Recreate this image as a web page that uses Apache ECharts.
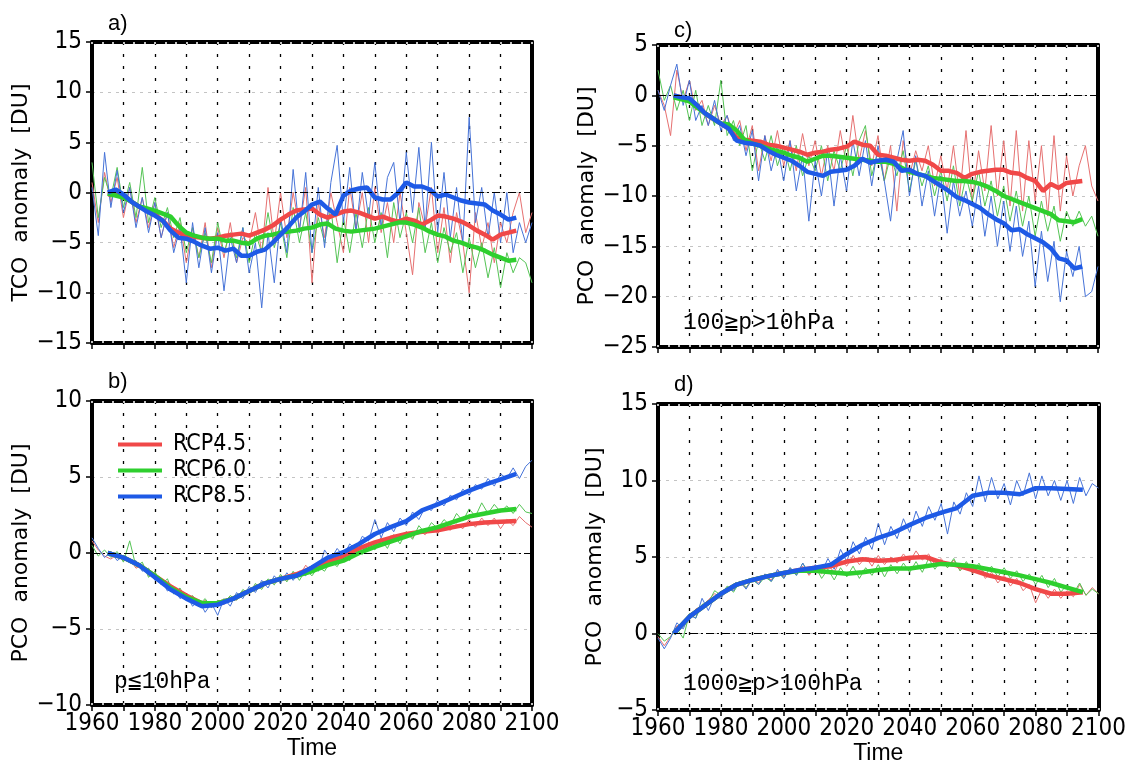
<!DOCTYPE html>
<html><head><meta charset="utf-8">
<script src="https://cdn.jsdelivr.net/npm/echarts@6/dist/echarts.min.js"></script>
<style>html,body{margin:0;padding:0;background:#fff}#c{width:1129px;height:769px}</style>
</head><body><div id="c"></div>
<script>
// ---------- categories / years ----------
const thinYears = []; for (let y = 1960; y <= 2100; y += 2) thinYears.push(y);          // annual values sampled every 2 years
const thickYearsAC = []; for (let y = 1965; y <= 2095; y += 2.5) thickYearsAC.push(y);  // smoothed curves, panels a & c
const thickYearsBD = []; for (let y = 1965; y <= 2095; y += 5) thickYearsBD.push(y);    // smoothed curves, panels b & d
const scenarios = ['RCP4.5', 'RCP6.0', 'RCP8.5'];
const xTickLabels = [1960, 1980, 2000, 2020, 2040, 2060, 2080, 2100];

// ---------- panel a : TCO ----------
const aThinRed = [1.0,-3.0,2.0,-1.0,1.5,-2.5,0.5,-3.0,-0.5,-3.5,
 -1.0,-4.5,-2.0,-5.5,-3.0,-7.0,-3.5,-6.5,-3.0,-7.5,
 -3.5,-6.5,-3.0,-7.0,-4.5,-5.0,-2.0,-6.0,0.5,-5.0,
 0.0,-4.5,0.0,-3.5,0.5,-9.0,-1.0,-4.5,0.0,-3.0,
 -6.0,0.5,-3.5,0.0,-5.0,0.5,-4.0,-1.0,-5.0,0.0,
 -4.0,-8.2,-1.0,-3.5,0.5,-6.0,-1.5,-7.0,-2.0,-5.0,
 -10.0,-2.0,-5.5,-3.0,-7.0,-3.0,-5.0,-2.0,0.0,-4.0,
 -2.0];
const aThinGreen = [3.0,-2.5,1.5,-0.5,2.5,-1.5,1.0,-2.5,2.5,-3.0,
 -0.5,-3.5,-1.5,-4.5,-2.5,-6.0,-3.5,-6.5,-4.0,-7.0,
 -3.0,-6.0,-4.0,-6.5,-3.5,-7.0,-4.0,-6.0,-2.0,-5.5,
 -3.0,-6.5,-1.5,-5.0,-2.0,-6.0,-2.5,-5.0,-1.5,-7.0,
 -2.5,-6.0,-2.0,-5.5,-1.5,-5.0,-2.0,-6.5,-1.0,-4.5,
 -2.0,-5.0,-1.5,-6.0,-3.0,-7.0,-3.5,-6.0,-4.0,-8.0,
 -4.5,-7.5,-5.0,-8.5,-5.5,-9.5,-6.0,-8.0,-6.5,-7.0,
 -9.0];
const aThinBlue = [0.5,-4.3,4.0,-1.5,2.2,-2.0,0.5,-3.5,-0.5,-4.0,
 -1.0,-4.5,-2.0,-6.0,-3.5,-9.0,-3.0,-7.5,-3.5,-8.0,
 -4.0,-9.8,-4.5,-7.0,-3.5,-8.0,-5.0,-11.5,-4.0,-9.0,
 -2.5,-6.0,2.3,-4.0,2.0,-6.0,0.5,-5.5,1.0,4.7,
 -3.0,2.5,-4.0,2.0,-2.5,3.0,-3.5,1.5,3.0,-3.0,
 4.0,-2.0,4.5,-3.5,5.0,-4.0,2.0,-4.5,0.5,-5.0,
 7.5,-3.0,0.5,-4.5,0.0,-5.0,0.0,-6.0,-3.0,-5.0,
 -3.0];
const aThickRed = [-0.2,-0.1,-0.4,-0.9,-1.4,-1.8,-2.2,-2.8,-3.6,-4.0,
 -4.3,-4.4,-4.5,-4.6,-4.5,-4.3,-4.2,-4.1,-4.3,-4.0,
 -3.7,-3.3,-2.7,-2.2,-1.8,-1.7,-1.6,-2.2,-2.5,-2.2,
 -1.9,-1.8,-2.0,-2.3,-2.6,-2.4,-2.7,-2.9,-2.6,-2.8,
 -3.2,-2.8,-2.3,-2.4,-2.6,-2.9,-3.3,-3.8,-4.2,-4.7,
 -4.2,-4.0,-3.8];
const aThickGreen = [-0.1,-0.3,-0.5,-0.9,-1.4,-1.6,-1.8,-2.1,-2.4,-3.3,
 -4.0,-4.3,-4.5,-4.6,-4.6,-4.8,-4.8,-5.0,-5.1,-4.6,
 -4.3,-4.2,-4.0,-3.9,-3.8,-3.6,-3.5,-3.2,-3.1,-3.6,
 -3.8,-3.9,-3.8,-3.7,-3.6,-3.4,-3.2,-3.0,-3.0,-3.2,
 -3.5,-3.9,-4.2,-4.4,-4.8,-5.0,-5.3,-5.5,-5.8,-6.2,
 -6.5,-6.8,-6.7];
const aThickBlue = [0.0,0.3,-0.2,-0.9,-1.4,-1.9,-2.3,-2.8,-3.8,-4.5,
 -4.6,-4.9,-5.3,-5.6,-5.5,-5.8,-5.6,-6.3,-6.3,-5.9,
 -5.7,-5.0,-4.2,-3.4,-2.5,-1.9,-1.2,-0.9,-1.6,-2.2,
 -0.3,0.2,0.4,0.5,-0.5,-0.7,-0.7,0.0,1.0,0.6,
 0.6,0.3,-0.4,-0.2,-0.5,-0.8,-1.0,-1.1,-1.2,-1.8,
 -2.2,-2.7,-2.5];

// ---------- panel b : PCO p<=10hPa ----------
const bThinRed = [0.8,0.2,-0.2,-0.4,-0.1,-0.5,-0.4,-1.0,-0.8,-1.5,
 -1.3,-2.0,-1.9,-2.6,-2.4,-3.0,-2.9,-3.5,-3.1,-3.6,
 -3.2,-3.4,-2.9,-3.1,-2.5,-2.7,-2.1,-2.3,-1.8,-2.0,
 -1.5,-1.8,-1.3,-1.5,-0.8,-1.3,-0.6,-0.9,-0.3,-0.6,
 0.0,-0.3,0.4,0.1,0.7,0.5,1.0,0.7,1.2,0.9,
 1.4,1.0,1.5,1.2,1.7,1.3,1.7,1.5,1.9,1.6,
 2.2,1.7,2.3,1.8,2.3,1.6,2.2,1.8,2.4,2.0,
 1.7];
const bThinGreen = [0.5,-0.2,0.2,-0.3,0.1,-0.6,0.8,-0.9,-0.6,-1.6,
 -1.2,-2.1,-1.7,-2.7,-2.3,-3.1,-2.8,-3.4,-3.0,-3.6,
 -3.1,-3.3,-2.8,-3.1,-2.4,-2.7,-2.0,-2.4,-1.7,-2.1,
 -1.4,-1.9,-1.2,-1.8,-1.1,-1.5,-0.9,-1.2,-0.5,-0.9,
 -0.2,-0.5,0.3,-0.1,0.6,0.2,0.9,0.3,1.2,0.6,
 1.4,0.9,1.8,1.3,2.0,1.6,2.2,1.8,2.6,2.1,
 2.9,2.4,3.3,2.6,3.2,2.7,3.1,2.6,3.2,2.7,
 2.6];
const bThinBlue = [1.0,0.3,-0.3,0.1,-0.5,-0.2,-0.6,-0.5,-1.2,-1.0,
 -1.8,-1.7,-2.5,-2.3,-3.0,-2.7,-3.5,-3.1,-3.9,-3.3,
 -4.1,-3.0,-3.5,-2.6,-3.0,-2.2,-2.6,-1.8,-2.3,-1.5,
 -2.0,-1.3,-1.8,-1.2,-1.5,-0.8,-1.2,0.2,-0.4,0.3,
 -0.2,0.6,0.2,1.1,0.8,2.2,1.0,2.0,1.4,2.3,
 1.8,2.7,2.2,3.0,2.8,3.5,3.1,3.8,3.5,4.2,
 3.8,4.5,4.2,4.9,4.4,5.2,4.9,5.6,4.9,5.7,
 6.1];
const bThickRed = [0.0,-0.3,-0.8,-1.5,-2.2,-2.8,-3.3,-3.3,-3.0,-2.5,-2.0,-1.7,-1.4,-1.0,
 -0.6,-0.2,0.3,0.7,1.0,1.25,1.4,1.5,1.7,1.9,2.0,2.05,2.1];
const bThickGreen = [0.0,-0.3,-0.8,-1.5,-2.3,-2.9,-3.3,-3.3,-3.0,-2.5,-2.0,-1.7,-1.5,-1.2,
 -0.8,-0.5,0.0,0.4,0.75,1.1,1.45,1.7,2.05,2.4,2.6,2.8,2.9];
const bThickBlue = [0.0,-0.3,-0.8,-1.6,-2.4,-3.0,-3.5,-3.4,-3.0,-2.5,-2.0,-1.7,-1.5,-0.95,
 -0.3,0.05,0.6,1.25,1.7,2.1,2.8,3.2,3.65,4.1,4.5,4.85,5.2];

// ---------- panel c : PCO 100>=p>10hPa ----------
const cThinRed = [0.5,-1.0,-4.0,2.5,-0.5,1.5,-1.5,-0.5,-3.0,-1.0,
 -3.0,-2.0,-4.0,-2.5,-5.5,-3.0,-7.5,-4.0,-6.5,-3.5,
 -7.0,-4.5,-7.5,-3.8,-7.0,-4.5,-8.0,-5.0,-7.5,-3.5,
 -7.0,-2.0,-6.5,-3.5,-7.0,-4.0,-8.5,-5.0,-11.5,-4.5,
 -8.0,-5.5,-7.5,-5.0,-9.0,-6.0,-9.5,-5.0,-10.0,-3.5,
 -10.5,-5.5,-9.5,-3.0,-10.0,-4.5,-11.0,-3.5,-11.5,-4.5,
 -10.5,-5.0,-12.0,-4.0,-11.5,-6.0,-10.0,-7.0,-5.0,-9.0,
 -10.5];
const cThinGreen = [2.5,-0.5,1.0,-1.5,0.5,-2.5,0.5,-3.0,-1.0,-3.0,
 1.5,-4.0,-2.5,-5.0,-3.0,-7.5,-4.5,-6.5,-4.0,-7.0,
 -5.0,-7.5,-5.0,-8.0,-6.0,-7.5,-5.0,-8.5,-5.5,-7.5,
 -5.0,-8.0,-4.5,-3.0,-8.0,-5.5,-8.5,-6.0,-8.0,-5.5,
 -9.5,-6.5,-9.0,-7.0,-10.0,-7.5,-10.5,-7.0,-11.0,-8.0,
 -10.5,-7.5,-11.0,-8.5,-12.0,-9.0,-12.5,-9.5,-13.0,-10.0,
 -14.0,-10.5,-13.5,-11.0,-14.5,-11.5,-13.0,-11.5,-13.0,-12.0,
 -14.0];
const cThinBlue = [0.5,-1.5,1.0,3.1,-1.0,1.5,-2.5,-1.0,-3.0,-0.5,
 -3.5,-2.0,-4.5,-3.0,-6.0,-3.5,-8.5,-4.0,-7.5,-5.0,
 -8.5,-4.5,-9.5,-6.0,-12.5,-6.5,-10.0,-5.5,-11.0,-6.0,
 -9.5,-4.5,-8.0,-4.5,-9.0,-5.0,-8.5,-12.5,-6.5,-3.5,
 -10.0,-6.0,-11.0,-7.5,-12.0,-8.0,-13.7,-8.5,-12.0,-9.5,
 -13.0,-9.0,-14.0,-10.0,-15.0,-10.5,-15.5,-11.0,-16.0,-12.5,
 -19.0,-13.5,-18.5,-14.5,-20.5,-15.5,-18.0,-15.0,-20.0,-19.5,
 -17.0];
const cThickRed = [0.0,-0.2,-0.4,-1.1,-1.8,-2.3,-2.8,-3.3,-4.2,-4.4,
 -4.5,-4.6,-4.9,-5.0,-5.2,-5.4,-5.6,-5.9,-5.7,-5.6,
 -5.4,-5.3,-5.1,-4.6,-4.9,-5.0,-5.9,-6.0,-6.2,-6.4,
 -6.5,-6.4,-6.5,-6.9,-7.5,-7.5,-7.7,-8.2,-7.8,-7.6,
 -7.5,-7.4,-7.4,-7.7,-7.8,-8.2,-8.5,-9.5,-8.8,-9.2,
 -8.7,-8.6,-8.5];
const cThickGreen = [-0.2,-0.4,-0.6,-1.2,-1.8,-2.3,-2.8,-2.9,-3.5,-4.4,
 -4.8,-5.0,-5.3,-5.5,-5.7,-6.0,-6.2,-6.6,-6.3,-6.0,
 -6.0,-6.1,-6.2,-6.3,-6.4,-6.5,-6.6,-6.6,-6.8,-7.2,
 -7.6,-7.8,-8.0,-8.2,-8.3,-8.4,-8.5,-8.5,-8.6,-8.8,
 -9.1,-9.5,-10.0,-10.3,-10.6,-10.9,-11.2,-11.5,-11.8,-12.4,
 -12.5,-12.6,-12.3];
const cThickBlue = [0.0,-0.2,-0.3,-1.0,-1.8,-2.3,-2.8,-3.3,-4.5,-4.7,
 -4.8,-5.0,-5.5,-5.9,-6.2,-6.5,-7.0,-7.6,-7.8,-8.0,
 -7.6,-7.5,-7.4,-7.0,-6.3,-6.7,-6.5,-6.4,-6.6,-7.5,
 -7.4,-7.8,-8.0,-8.5,-9.0,-9.5,-10.1,-10.4,-10.8,-11.2,
 -11.8,-12.3,-12.7,-13.4,-13.3,-13.8,-14.2,-14.6,-15.2,-16.2,
 -16.4,-17.2,-17.0];

// ---------- panel d : PCO 1000>=p>100hPa ----------
const dThinRed = [-0.2,-0.8,-0.2,0.5,0.6,1.0,1.6,1.8,2.2,2.6,
 2.4,3.0,2.9,3.3,3.0,3.6,3.3,3.8,3.5,4.1,
 3.7,4.2,3.9,4.4,3.8,4.3,3.9,4.5,4.0,4.8,
 4.4,5.1,4.5,5.0,4.4,5.1,4.5,5.0,4.6,5.2,
 4.7,5.4,4.8,5.2,4.5,4.9,4.3,4.8,4.1,4.6,
 3.9,4.4,3.6,4.0,3.3,3.8,3.1,3.6,2.8,3.2,
 2.0,2.9,2.3,2.9,2.3,2.8,2.4,3.2,2.5,3.0,
 2.6];
const dThinGreen = [0.0,-0.5,-0.2,0.3,-0.3,1.3,1.0,1.9,2.0,2.8,
 2.5,3.1,2.7,3.4,3.0,3.5,3.2,3.7,3.4,4.0,
 3.6,4.3,3.8,4.6,3.9,4.4,3.6,4.2,3.5,4.3,
 3.7,4.4,3.6,4.3,3.8,4.5,3.7,4.5,3.9,4.6,
 4.0,4.7,4.0,4.9,4.2,4.8,4.3,4.9,4.1,4.7,
 4.0,4.6,3.8,4.4,3.7,4.3,3.6,4.1,3.4,3.9,
 3.2,3.8,3.0,3.6,2.7,3.2,2.6,3.3,2.5,2.9,
 2.6];
const dThinBlue = [-0.3,-1.0,-0.3,0.7,0.3,1.2,1.0,2.3,1.5,2.4,
 2.3,2.9,2.8,3.4,2.9,3.6,3.2,3.9,3.4,4.2,
 3.6,4.3,3.8,4.6,3.9,4.5,4.0,4.9,4.2,5.5,
 4.7,6.0,5.2,6.3,5.5,7.2,5.8,7.0,6.2,7.5,
 6.6,8.0,7.0,8.3,7.4,8.5,6.5,8.6,7.8,9.2,
 8.3,10.3,8.6,10.2,8.8,9.8,8.4,10.0,9.0,10.5,
 8.8,10.3,9.0,10.0,8.7,10.0,8.5,10.2,9.0,9.8,
 9.5];
const dThickRed = [0.0,1.1,1.85,2.6,3.2,3.5,3.75,3.95,4.15,4.3,4.4,4.7,4.85,4.75,
 4.8,4.95,5.0,4.65,4.45,4.15,3.8,3.55,3.3,2.9,2.6,2.6,2.7];
const dThickGreen = [0.0,1.1,1.85,2.6,3.2,3.5,3.75,3.95,4.1,4.1,4.0,3.9,4.0,4.15,
 4.25,4.25,4.4,4.55,4.5,4.4,4.2,4.0,3.8,3.55,3.3,3.0,2.7];
const dThickBlue = [0.0,1.1,1.85,2.6,3.2,3.5,3.75,3.95,4.15,4.3,4.5,5.2,5.8,6.25,
 6.6,7.1,7.55,7.9,8.2,9.0,9.2,9.2,9.1,9.5,9.5,9.45,9.4];

// ---------- styling ----------
const thickColors = ['#f04848', '#2ecf2e', '#1e5ae6'];
const thinColors = ['#e67070', '#55c455', '#4673d8'];
const NUMFONT = "'Liberation Sans Narrow','DejaVu Sans Condensed','Liberation Sans',sans-serif";
const TXTFONT = "'DejaVu Sans','Liberation Sans',sans-serif";
const MONOFONT = "'Liberation Mono','DejaVu Sans Mono',monospace";
const FRAME = {color:'#000', width:4};

const panels = [
  {grid:{left:92, top:42, width:440, height:301}, ymin:-15, ymax:15, yname:'TCO  anomaly  [DU]', showX:false,
   tyears:thickYearsAC, thin:[aThinRed,aThinGreen,aThinBlue], thick:[aThickRed,aThickGreen,aThickBlue]},
  {grid:{left:92, top:401, width:440, height:304}, ymin:-10, ymax:10, yname:'PCO  anomaly  [DU]', showX:true,
   tyears:thickYearsBD, thin:[bThinRed,bThinGreen,bThinBlue], thick:[bThickRed,bThickGreen,bThickBlue]},
  {grid:{left:658, top:45, width:440, height:302}, ymin:-25, ymax:5, yname:'PCO  anomaly  [DU]', showX:false,
   tyears:thickYearsAC, thin:[cThinRed,cThinGreen,cThinBlue], thick:[cThickRed,cThickGreen,cThickBlue]},
  {grid:{left:658, top:404, width:441, height:306}, ymin:-5, ymax:15, yname:'PCO  anomaly  [DU]', showX:true,
   tyears:thickYearsBD, thin:[dThinRed,dThinGreen,dThinBlue], thick:[dThickRed,dThickGreen,dThickBlue]}
];

const pair = (xs, ys) => xs.map((x, i) => [x, ys[i]]);
const grids = [], xAxes = [], yAxes = [], series = [];

panels.forEach((p, gi) => {
  grids.push(Object.assign({show:false}, p.grid));
  const mainX = xAxes.length;
  xAxes.push({
    type:'value', gridIndex:gi, min:1960, max:2100, interval:10, position:'bottom',
    axisLine:{show:false, onZero:false},
    axisTick:{show:true, length:6, lineStyle:{color:'#000', width:1.5}},
    axisLabel:{show:p.showX, margin:7, color:'#000', fontFamily:NUMFONT, fontSize:24,
      formatter: v => xTickLabels.includes(v) ? String(v) : ''},
    splitLine:{show:true, lineStyle:{color:'#000', width:1.3, type:[3,9]}},
    name: p.showX ? 'Time' : '', nameLocation:'middle', nameGap:31,
    nameTextStyle:{fontFamily:"'Liberation Sans',sans-serif", fontSize:23, color:'#000'}
  });
  // top and bottom frame lines, with small white minor marks cut into them
  ['top','bottom'].forEach(pos => xAxes.push({
    type:'value', gridIndex:gi, min:1960, max:2100, interval:10/3, position:pos,
    axisLine:{show:true, onZero:false, lineStyle:FRAME}, axisLabel:{show:false}, splitLine:{show:false},
    axisTick:{show:true, inside:true, length:2, lineStyle:{color:'#fff', width:1.5}}
  }));
  const yi = yAxes.length;
  yAxes.push({
    type:'value', gridIndex:gi, min:p.ymin, max:p.ymax, interval:5, position:'left',
    axisLine:{show:true, onZero:false, lineStyle:FRAME},
    axisTick:{show:true, length:6, lineStyle:{color:'#000', width:1.5}},
    axisLabel:{margin:10, color:'#000', fontFamily:NUMFONT, fontSize:24,
      formatter: v => String(v).replace('-', '\u2212')},
    splitLine:{show:true, lineStyle:{color:'#c4c4c4', width:1, type:[3,5]}},
    name:p.yname, nameLocation:'middle', nameGap:52, nameRotate:90,
    nameTextStyle:{fontFamily:TXTFONT, fontSize:22, color:'#000'}
  });
  yAxes.push({
    type:'value', gridIndex:gi, min:p.ymin, max:p.ymax, interval:5, position:'right',
    axisLine:{show:true, onZero:false, lineStyle:FRAME}, axisTick:{show:false}, axisLabel:{show:false}, splitLine:{show:false}
  });
  p.thin.forEach((vals, k) => {
    const s = {
      type:'line', name:scenarios[k] + ' annual', xAxisIndex:mainX, yAxisIndex:yi,
      data:pair(thinYears, vals), symbol:'none', z:2,
      lineStyle:{color:thinColors[k], width:1}
    };
    if (k === 0) s.markLine = {symbol:'none', silent:true, label:{show:false}, animation:false,
      data:[{yAxis:0}], lineStyle:{color:'#000', width:1.2, type:[8,3,2,3]}};
    series.push(s);
  });
  p.thick.forEach((vals, k) => {
    series.push({
      type:'line', name:scenarios[k], xAxisIndex:mainX, yAxisIndex:yi,
      data:pair(p.tyears, vals), symbol:'none', z:3,
      lineStyle:{color:thickColors[k], width:4.5}, itemStyle:{color:thickColors[k]}
    });
  });
});

const chart = echarts.init(document.getElementById('c'), null, {renderer:'canvas'});
chart.setOption({
  animation:false,
  backgroundColor:'#fff',
  grid:grids, xAxis:xAxes, yAxis:yAxes, series:series,
  legend:{data:scenarios, orient:'vertical', left:113, top:428, icon:'rect', itemWidth:44, itemHeight:4, itemGap:3,
    textStyle:{fontFamily:NUMFONT, fontSize:23, lineHeight:23, color:'#000', padding:[0,0,0,6]}},
  graphic:[
    {type:'text', left:108, top:13, style:{text:'a)', font:"22px 'Liberation Sans'", fill:'#000'}},
    {type:'text', left:108, top:371, style:{text:'b)', font:"22px 'Liberation Sans'", fill:'#000'}},
    {type:'text', left:674, top:20, style:{text:'c)', font:"22px 'Liberation Sans'", fill:'#000'}},
    {type:'text', left:674, top:374, style:{text:'d)', font:"22px 'Liberation Sans'", fill:'#000'}},
    {type:'text', left:114, top:670, style:{text:'p\u226610hPa', font:"23px " + MONOFONT, fill:'#000'}},
    {type:'text', left:683, top:311, style:{text:'100\u2267p>10hPa', font:"23px " + MONOFONT, fill:'#000'}},
    {type:'text', left:683, top:672, style:{text:'1000\u2267p>100hPa', font:"23px " + MONOFONT, fill:'#000'}}
  ]
});
</script>
</body></html>
